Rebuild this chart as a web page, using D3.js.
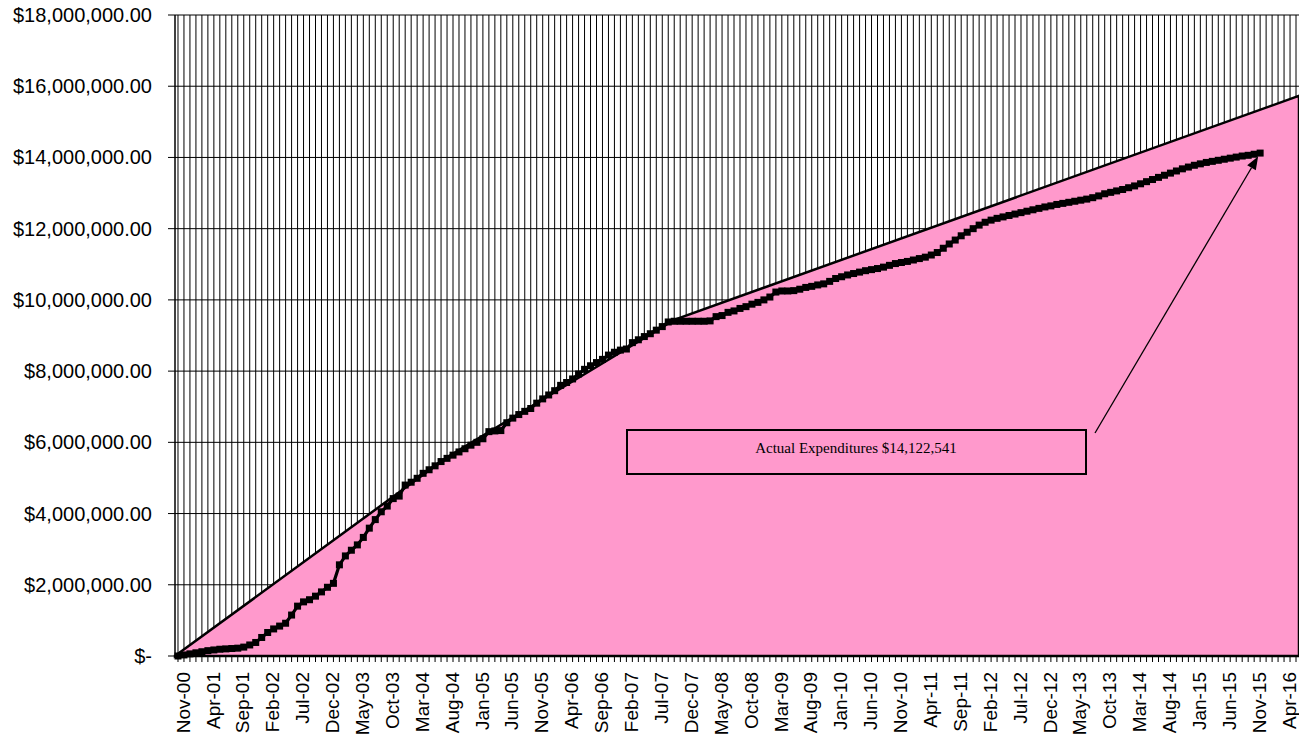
<!DOCTYPE html>
<html><head><meta charset="utf-8">
<script src="https://cdn.jsdelivr.net/npm/d3@7"></script>
<style>body{margin:0;background:#fff}svg{display:block}</style>
</head><body>
<svg id="chart" width="1299" height="739"></svg>
<script>
// ---------- DATA ----------
const monthCategories = d3.timeMonth.range(new Date(2000, 10, 1), new Date(2016, 6, 1)).map(d3.timeFormat("%b-%y")); // Nov-00 .. Jun-16
const xTickLabels = ["Nov-00","Apr-01","Sep-01","Feb-02","Jul-02","Dec-02","May-03","Oct-03","Mar-04","Aug-04","Jan-05","Jun-05","Nov-05","Apr-06","Sep-06","Feb-07","Jul-07","Dec-07","May-08","Oct-08","Mar-09","Aug-09","Jan-10","Jun-10","Nov-10","Apr-11","Sep-11","Feb-12","Jul-12","Dec-12","May-13","Oct-13","Mar-14","Aug-14","Jan-15","Jun-15","Nov-15","Apr-16"];
const yTickValues = [0, 2e6, 4e6, 6e6, 8e6, 10e6, 12e6, 14e6, 16e6, 18e6];
const yTickLabels = ["$-","$2,000,000.00","$4,000,000.00","$6,000,000.00","$8,000,000.00","$10,000,000.00","$12,000,000.00","$14,000,000.00","$16,000,000.00","$18,000,000.00"];
// cumulative actual expenditures, $ millions, Nov-00 .. Dec-15
const actualMillions = [
 0.00,0.03,0.06,0.09,0.12,0.15,0.17,0.19,0.20,0.21,0.22,0.25,0.31,0.38,0.52,0.66,0.76,0.84,0.92,1.15,
 1.40,1.52,1.58,1.68,1.80,1.93,2.04,2.56,2.81,2.97,3.12,3.33,3.59,3.83,4.05,4.21,4.42,4.49,4.80,4.88,
 4.99,5.13,5.23,5.34,5.46,5.55,5.64,5.73,5.82,5.92,6.00,6.10,6.30,6.32,6.33,6.55,6.68,6.78,6.87,6.95,
 7.10,7.22,7.33,7.45,7.60,7.68,7.78,7.92,8.05,8.15,8.24,8.33,8.45,8.53,8.59,8.62,8.80,8.88,8.97,9.05,
 9.15,9.25,9.38,9.40,9.40,9.40,9.40,9.40,9.40,9.41,9.53,9.56,9.65,9.69,9.76,9.81,9.88,9.93,10.00,10.08,
 10.22,10.25,10.25,10.26,10.30,10.35,10.38,10.42,10.45,10.52,10.60,10.65,10.70,10.74,10.78,10.82,10.85,10.88,10.92,10.97,
 11.02,11.05,11.08,11.12,11.16,11.20,11.26,11.33,11.45,11.57,11.68,11.80,11.90,12.00,12.10,12.18,12.24,12.29,12.33,12.37,
 12.41,12.45,12.49,12.53,12.57,12.61,12.64,12.68,12.71,12.74,12.77,12.80,12.83,12.87,12.92,12.98,13.02,13.06,13.10,13.15,
 13.20,13.26,13.32,13.38,13.44,13.50,13.56,13.62,13.68,13.73,13.78,13.82,13.86,13.89,13.92,13.95,13.98,14.01,14.04,14.06,
 14.09,14.122541
];
// planned (budget) cumulative line, knots
const budgetMonths = ["Nov-00","Aug-04","Oct-07","Jun-16"];
const budgetMillions = [0.06, 5.58, 9.44, 15.70];
const annotationText = "Actual Expenditures $14,122,541";

// ---------- LAYOUT ----------
const svg = d3.select("#chart");
const L = 175, R = 1299, T = 15, B = 656;
const x = d3.scaleBand().domain(monthCategories).range([L, R]).paddingInner(0).paddingOuter(0);
const cx = m => x(m) + x.bandwidth() / 2;
const y = d3.scaleLinear().domain([0, 18e6]).range([B, T]);
const FONT = "'Liberation Sans', Arial, sans-serif";

svg.append("rect").attr("width", 1299).attr("height", 739).attr("fill", "#fff");

// vertical gridlines (every month)
svg.append("g").selectAll("line").data(monthCategories).join("line")
  .attr("x1", d => cx(d)).attr("x2", d => cx(d)).attr("y1", T).attr("y2", B)
  .attr("stroke", "#000").attr("stroke-width", 1);
// horizontal gridlines
svg.append("g").selectAll("line").data(yTickValues).join("line")
  .attr("x1", L - 7).attr("x2", R).attr("y1", d => y(d)).attr("y2", d => y(d))
  .attr("stroke", "#000").attr("stroke-width", 1);

// budget area (pink)
const knots = budgetMonths.map((m, i) => [cx(m), y(budgetMillions[i] * 1e6)]);
function extrap(p0, p1, xe) { return p0[1] + (xe - p0[0]) * (p1[1] - p0[1]) / (p1[0] - p0[0]); }
const leftY = extrap(knots[0], knots[1], L);
const n = knots.length;
const rightY = extrap(knots[n - 2], knots[n - 1], R);
const poly = [[L, leftY], ...knots, [R, rightY], [R, y(0)], [L, y(0)]];
svg.append("path").attr("d", d3.line()(poly) + "Z")
  .attr("fill", "#FF99CC").attr("stroke", "#000").attr("stroke-width", 2.5).attr("stroke-linejoin", "miter");

// y axis line
svg.append("line").attr("x1", L).attr("x2", L).attr("y1", T).attr("y2", B)
  .attr("stroke", "#000").attr("stroke-width", 1.5);
// bottom tick marks
svg.append("g").selectAll("line").data(monthCategories).join("line")
  .attr("x1", d => cx(d)).attr("x2", d => cx(d)).attr("y1", B).attr("y2", B + 6)
  .attr("stroke", "#000").attr("stroke-width", 1);
svg.append("line").attr("x1", L).attr("x2", R).attr("y1", B).attr("y2", B)
  .attr("stroke", "#000").attr("stroke-width", 2);

// actual line
const actual = actualMillions.map((v, i) => ({ m: monthCategories[i], v: v * 1e6 }));
svg.append("path").datum(actual)
  .attr("d", d3.line().x(d => cx(d.m)).y(d => y(d.v)))
  .attr("fill", "none").attr("stroke", "#000").attr("stroke-width", 3.2);
svg.append("g").selectAll("rect").data(actual).join("rect")
  .attr("x", d => cx(d.m) - 3.5).attr("y", d => y(d.v) - 3.5)
  .attr("width", 7).attr("height", 7).attr("fill", "#000");

// y labels
svg.append("g").selectAll("text").data(yTickValues).join("text")
  .attr("x", 152).attr("y", d => y(d)).attr("dy", "0.35em")
  .attr("text-anchor", "end").attr("font-family", FONT).attr("font-size", 20).attr("fill", "#000")
  .text((d, i) => yTickLabels[i]);

// x labels
svg.append("g").selectAll("text").data(xTickLabels).join("text")
  .attr("transform", d => `translate(${cx(d) + 5},672) rotate(-90)`)
  .attr("dy", "0.35em").attr("text-anchor", "end")
  .attr("font-family", FONT).attr("font-size", 19).attr("fill", "#000")
  .text(d => d);

// annotation box
svg.append("rect").attr("x", 627).attr("y", 430).attr("width", 459).attr("height", 44)
  .attr("fill", "#FF99CC").attr("stroke", "#000").attr("stroke-width", 2);
svg.append("text").attr("x", 856).attr("y", 453).attr("text-anchor", "middle")
  .attr("font-family", "'Liberation Serif', 'Times New Roman', serif").attr("font-size", 15).attr("fill", "#000")
  .text(annotationText);

// arrow to last actual point
const last = actual[actual.length - 1];
const tx = cx(last.m), ty = y(last.v);
const sx = 1095, sy = 433;
const ang = Math.atan2(ty - sy, tx - sx);
const tipX = tx - 4 * Math.cos(ang), tipY = ty - 4 * Math.sin(ang);
const headLen = 13, headW = 5;
const bx = tipX - headLen * Math.cos(ang), by = tipY - headLen * Math.sin(ang);
svg.append("line").attr("x1", sx).attr("y1", sy).attr("x2", bx).attr("y2", by)
  .attr("stroke", "#000").attr("stroke-width", 1.3);
svg.append("path").attr("d", d3.line()([
  [tipX, tipY],
  [bx + headW * Math.sin(ang), by - headW * Math.cos(ang)],
  [bx - headW * Math.sin(ang), by + headW * Math.cos(ang)]
]) + "Z").attr("fill", "#000");
</script>
</body></html>
